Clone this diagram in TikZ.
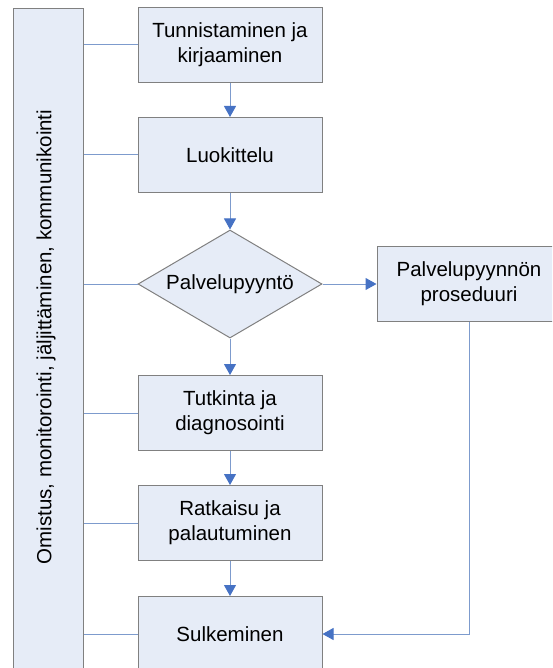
\documentclass[tikz,border=0pt]{standalone}
\usepackage{fontspec}
\setmainfont{Liberation Sans}
\usetikzlibrary{shapes.geometric,arrows.meta}
\definecolor{boxfill}{RGB}{230,236,247}
\definecolor{boxline}{RGB}{128,128,128}
\definecolor{linkline}{RGB}{125,155,205}
\definecolor{arrowblue}{RGB}{70,114,196}
\begin{document}
\begin{tikzpicture}[x=1pt,y=-1pt,
  font=\fontsize{20.5}{25}\selectfont,
  stepbox/.style={draw=boxline, fill=boxfill, line width=1pt,
    minimum width=184pt, minimum height=75pt, inner sep=0pt, align=center},
  decision/.style={diamond, draw=boxline, fill=boxfill, line width=1pt,
    minimum width=184pt, minimum height=108pt, inner sep=0pt},
  flow/.style={draw=linkline, line width=1pt,
    -{Triangle[width=12pt,length=11pt,color=arrowblue]}},
  link/.style={draw=linkline, line width=1pt}]
\useasboundingbox (0,0) rectangle (552,668);
\clip (0,0) rectangle (552,668);

% side bar spanning the whole process
\node[draw=boxline, fill=boxfill, line width=1pt, minimum width=70pt,
  minimum height=700pt, inner sep=0pt, anchor=north west] (bar) at (13,8) {};
\node[rotate=90] (bartext) at (46,337)
  {Omistus, monitorointi, jäljittäminen, kommunikointi};

% process steps
\node[stepbox] (ident) at (230,45) {Tunnistaminen ja\\kirjaaminen};
\node[stepbox] (class) at (230,155) {Luokittelu};
\node[decision] (req) at (230,284) {};
\node (reqtext) at (req.center) {Palvelupyyntö};
\node[stepbox] (proc) at (469,284) {Palvelupyynnön\\proseduuri};
\node[stepbox] (diag) at (230,413) {Tutkinta ja\\diagnosointi};
\node[stepbox] (solve) at (230,523) {Ratkaisu ja\\palautuminen};
\node[stepbox] (close) at (230,634) {Sulkeminen};

% links from the side bar
\foreach \n in {ident,class,req,diag,solve,close}
  \draw[link] (\n.west) -- (\n.west -| bar.east);

% flow
\draw[flow] (ident) -- (class);
\draw[flow] (class) -- (req);
\draw[flow] (req) -- (proc);
\draw[flow] (req) -- (diag);
\draw[flow] (diag) -- (solve);
\draw[flow] (solve) -- (close);
\draw[flow] (proc.south) |- (close.east);
\end{tikzpicture}
\end{document}
